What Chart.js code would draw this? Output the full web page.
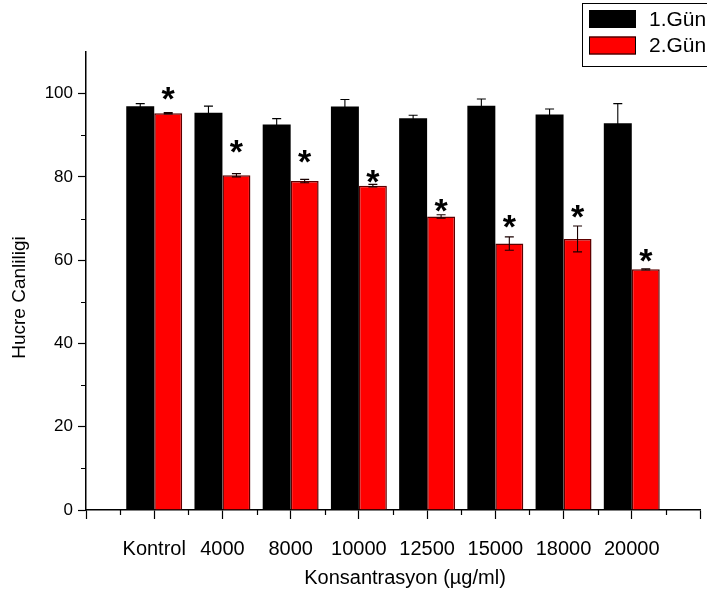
<!DOCTYPE html>
<html>
<head>
<meta charset="utf-8">
<script src="https://cdn.jsdelivr.net/npm/chart.js@4/dist/chart.umd.min.js"></script>
<style>
  html, body { margin: 0; padding: 0; background: #fff; }
  canvas { display: block; }
</style>
</head>
<body>
<canvas id="c" width="707" height="597"></canvas>
<script>
// Concentration groups (µg/ml)
const categories = ['Kontrol', '4000', '8000', '10000', '12500', '15000', '18000', '20000'];

// Cell viability, day 1
const day1 = [97.0, 95.4, 92.6, 96.9, 94.1, 97.1, 95.0, 92.9];
const day1Err = [0.6, 1.6, 1.4, 1.7, 0.7, 1.6, 1.3, 4.7];

// Cell viability, day 2
const day2 = [95.3, 80.4, 79.0, 77.9, 70.5, 64.0, 65.1, 57.8];
const day2Err = [0.15, 0.4, 0.4, 0.3, 0.4, 1.6, 3.1, 0.15];

// Height (in viability units) of the significance marks above day-2 bars
const starLevels = [100.0, 87.2, 84.8, 80.1, 73.2, 69.2, 71.6, 61.2];

// Axis ticks
const yMajorTicks = [0, 20, 40, 60, 80, 100];
const yMinorTicks = [10, 30, 50, 70, 90];

const yTitle = 'Hucre Canliligi';
const xTitle = 'Konsantrasyon (µg/ml)';

const FONT = "'Liberation Sans', Arial, Helvetica, sans-serif";

const errorBars = {
  id: 'errorBars',
  afterDatasetsDraw(chart) {
    const ctx = chart.ctx;
    const ys = chart.scales.y;
    chart.data.datasets.forEach((ds, d) => {
      const meta = chart.getDatasetMeta(d);
      ctx.save();
      ctx.strokeStyle = ds.errorColor;
      ctx.lineWidth = 1.1;
      meta.data.forEach((bar, i) => {
        const v = ds.data[i].y, e = ds.errors[i];
        const top = ys.getPixelForValue(v + e);
        const bot = ys.getPixelForValue(v - e);
        const cap = 4.5;
        ctx.beginPath();
        ctx.moveTo(bar.x, top); ctx.lineTo(bar.x, bot);
        ctx.moveTo(bar.x - cap, top); ctx.lineTo(bar.x + cap, top);
        ctx.moveTo(bar.x - cap, bot); ctx.lineTo(bar.x + cap, bot);
        ctx.stroke();
      });
      ctx.restore();
    });
  }
};

const significance = {
  id: 'significance',
  afterDatasetsDraw(chart) {
    const ctx = chart.ctx;
    const ys = chart.scales.y;
    const meta = chart.getDatasetMeta(1);
    ctx.save();
    ctx.fillStyle = '#000';
    ctx.font = 'bold 34px ' + FONT;
    ctx.textAlign = 'center';
    ctx.textBaseline = 'alphabetic';
    const m = ctx.measureText('*');
    const shift = (m.actualBoundingBoxDescent - m.actualBoundingBoxAscent) / 2;
    meta.data.forEach((bar, i) => {
      const yc = ys.getPixelForValue(starLevels[i]);
      ctx.fillText('*', bar.x, yc - shift);
    });
    ctx.restore();
  }
};

const minorTicks = {
  id: 'minorTicks',
  afterDraw(chart) {
    const ctx = chart.ctx;
    const xs = chart.scales.x, ys = chart.scales.y;
    const area = chart.chartArea;
    ctx.save();
    ctx.strokeStyle = '#000';
    ctx.lineWidth = 1.2;
    ctx.beginPath();
    for (let i = -1; i < categories.length; i++) {
      const px = Math.round(xs.getPixelForValue(i + 0.5)) + 0.5;
      ctx.moveTo(px, area.bottom);
      ctx.lineTo(px, area.bottom + 5);
    }
    yMinorTicks.forEach(v => {
      const py = Math.round(ys.getPixelForValue(v)) + 0.5;
      ctx.moveTo(area.left, py);
      ctx.lineTo(area.left - 5, py);
    });
    ctx.stroke();
    ctx.restore();
  }
};

// Axis titles, placed beside the axes
const axisTitles = {
  id: 'axisTitles',
  afterDraw(chart) {
    const ctx = chart.ctx;
    ctx.save();
    ctx.fillStyle = '#000';
    ctx.textAlign = 'center';
    ctx.textBaseline = 'middle';
    ctx.font = '20px ' + FONT;
    ctx.fillText(xTitle, 405, 578);
    ctx.translate(19.5, 297.5);
    ctx.rotate(-Math.PI / 2);
    ctx.font = '19px ' + FONT;
    ctx.fillText(yTitle, 0, 0);
    ctx.restore();
  }
};

const boxLegend = {
  id: 'boxLegend',
  afterDraw(chart) {
    const ctx = chart.ctx;
    ctx.save();
    ctx.strokeStyle = '#000';
    ctx.lineWidth = 1;
    ctx.strokeRect(582.5, 3.5, 140, 63);
    ctx.font = '21px ' + FONT;
    ctx.textAlign = 'left';
    ctx.textBaseline = 'middle';
    chart.data.datasets.forEach((ds, d) => {
      const y = 10 + d * 26.5;
      ctx.fillStyle = ds.backgroundColor;
      ctx.fillRect(589, y, 47, 18);
      ctx.strokeStyle = '#000';
      ctx.strokeRect(589.5, y + 0.5, 46, 17);
      ctx.fillStyle = '#000';
      ctx.fillText(ds.label, 649, y + 10);
    });
    ctx.restore();
  }
};

new Chart(document.getElementById('c'), {
  type: 'bar',
  data: {
    datasets: [
      {
        label: '1.Gün',
        data: day1.map((v, i) => ({ x: i, y: v })),
        errors: day1Err,
        errorColor: '#000000',
        backgroundColor: '#000000',
        borderColor: '#000000',
        borderWidth: 0
      },
      {
        label: '2.Gün',
        data: day2.map((v, i) => ({ x: i, y: v })),
        errors: day2Err,
        errorColor: '#1a0000',
        backgroundColor: '#FF0000',
        borderColor: '#5e0000',
        borderWidth: 1.5
      }
    ]
  },
  options: {
    responsive: false,
    animation: false,
    events: [],
    categoryPercentage: 0.82,
    barPercentage: 1.0,
    layout: { padding: { top: 52, right: 7, bottom: 7, left: 0 } },
    plugins: {
      legend: { display: false },
      tooltip: { enabled: false }
    },
    scales: {
      x: {
        type: 'linear',
        offset: false,
        min: -1,
        max: categories.length,
        afterFit(s) { s.height = 80; s.paddingLeft = 0; s.paddingRight = 0; },
        ticks: {
          stepSize: 1,
          autoSkip: false,
          maxRotation: 0,
          padding: 18,
          color: '#000',
          font: { family: FONT, size: 20 },
          callback: v => (Number.isInteger(v) && v >= 0 && v < categories.length) ? categories[v] : ''
        },
        grid: { offset: false, drawOnChartArea: false, drawTicks: true, tickLength: 9, tickColor: '#000', tickWidth: 1.2 },
        border: { display: true, color: '#000', width: 1.5 },
        title: { display: false }
      },
      y: {
        min: 0,
        max: 110,
        afterFit(s) { s.width = 86; },
        afterBuildTicks(s) { s.ticks = yMajorTicks.map(v => ({ value: v })); },
        ticks: {
          padding: 5,
          color: '#000',
          font: { family: FONT, size: 17 }
        },
        grid: { drawOnChartArea: false, drawTicks: true, tickLength: 8, tickColor: '#000', tickWidth: 1.2 },
        border: { display: true, color: '#000', width: 1.5 },
        title: { display: false }
      }
    }
  },
  plugins: [errorBars, significance, minorTicks, axisTitles, boxLegend]
});
</script>
</body>
</html>
